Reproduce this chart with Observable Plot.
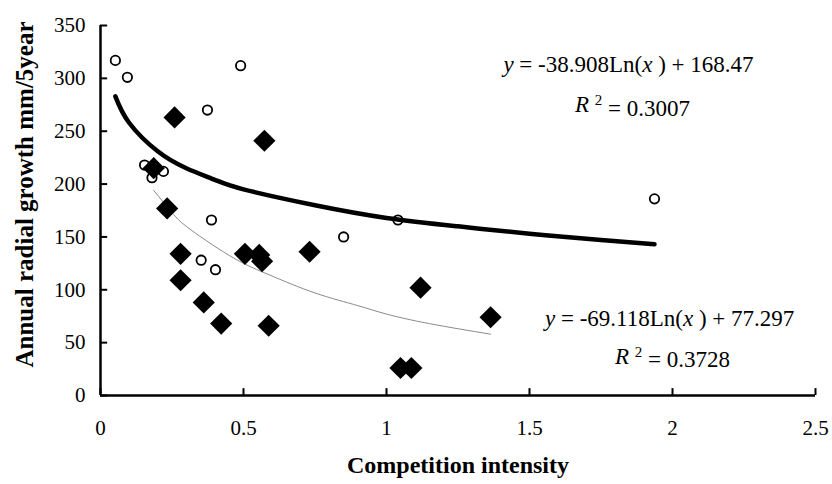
<!DOCTYPE html>
<html>
<head>
<meta charset="utf-8">
<script src="https://cdn.jsdelivr.net/npm/d3@7"></script>
<script src="https://cdn.jsdelivr.net/npm/@observablehq/plot@0.6"></script>
<style>
  html, body { margin: 0; padding: 0; background: #fff; }
  #chart { width: 832px; height: 484px; }
</style>
</head>
<body>
<div id="chart"></div>
<script>
// Series 1: open circles
const circleX = [0.052, 0.094, 0.49, 0.374, 0.154, 0.18, 0.22, 0.388, 0.85, 1.04, 1.937, 0.352, 0.402];
const circleY = [317, 301, 312, 270, 218, 206, 212, 166, 150, 166, 186, 128, 119];
// Series 2: filled diamonds
const diamondX = [0.259, 0.573, 0.186, 0.233, 0.28, 0.28, 0.361, 0.422, 0.505, 0.555, 0.565, 0.588, 0.731, 1.049, 1.087, 1.119, 1.364];
const diamondY = [263, 241, 215, 177, 134, 109, 88, 68, 134, 133, 127, 66, 136, 26, 26, 102, 74];
// Trend line 1 (thick black)
const trend1X = [0.052, 0.1, 0.2, 0.3, 0.4, 0.5, 0.75, 1.0, 1.25, 1.5, 1.75, 1.937];
const trend1Y = [283, 258, 231, 215, 204, 195, 180, 168, 160, 153, 147, 143];
// Trend line 2 (thin grey)
const trend2X = [0.186, 0.25, 0.3, 0.4, 0.5, 0.6, 0.75, 0.9, 1.0, 1.15, 1.364];
const trend2Y = [194, 173, 160, 141, 125, 113, 97, 85, 77, 68, 58];
// Axis ticks
const xTicks = [0, 0.5, 1, 1.5, 2, 2.5];
const yTicks = [0, 50, 100, 150, 200, 250, 300, 350];
// Texts
const xTitle = "Competition intensity";
const yTitle = "Annual radial growth mm/5year";
const eqLabels = ["y = -38.908Ln(x ) + 168.47", "R² = 0.3007", "y = -69.118Ln(x ) + 77.297", "R² = 0.3728"];
const eqX = [1.846, 1.86, 1.99, 2.0];
const eqY = [313, 275, 73, 37];

const circles = circleX.map((x, i) => ({x, y: circleY[i]}));
const diamonds = diamondX.map((x, i) => ({x, y: diamondY[i]}));
const t1 = trend1X.map((x, i) => ({x, y: trend1Y[i]}));
const t2 = trend2X.map((x, i) => ({x, y: trend2Y[i]}));
const eqs = eqLabels.map((t, i) => ({t, x: eqX[i], y: eqY[i]}));

const chart = Plot.plot({
  width: 832,
  height: 484,
  marginLeft: 100,
  marginRight: 17,
  marginTop: 25,
  marginBottom: 89,
  style: {fontFamily: "'Liberation Serif', 'Times New Roman', serif", fontSize: "21px", color: "#000", background: "#fff"},
  x: {domain: [0, 2.5]},
  y: {domain: [0, 350]},
  marks: [
    Plot.axisX(xTicks, {tickSize: 0, tickPadding: 25, label: null, fontSize: 21, tickFormat: d => String(d)}),
    Plot.axisY(yTicks, {tickSize: 0, tickPadding: 15, label: null, fontSize: 21, tickFormat: d => String(d)}),
    Plot.ruleX(xTicks, {x: d => d, y1: 0, y2: 6.5, stroke: "#000", strokeWidth: 2}),
    Plot.ruleY(yTicks, {y: d => d, x1: 0, x2: 0.025, stroke: "#000", strokeWidth: 2}),
    Plot.ruleY([0], {stroke: "#000", strokeWidth: 2.5}),
    Plot.ruleX([0], {stroke: "#000", strokeWidth: 2.5}),
    Plot.line(t2, {x: "x", y: "y", stroke: "#8a8a8a", strokeWidth: 1, curve: "natural"}),
    Plot.line(t1, {x: "x", y: "y", stroke: "#000", strokeWidth: 4.5, curve: "natural"}),
    Plot.dot(diamonds, {x: "x", y: "y", symbol: "diamond2", r: 10, fill: "#000", stroke: "none"}),
    Plot.dot(circles, {x: "x", y: "y", symbol: "circle", r: 4.7, fill: "none", stroke: "#000", strokeWidth: 1.8}),
    Plot.text(eqs, {x: "x", y: "y", text: "t", fontSize: 23, textAnchor: "middle", className: "eq"}),
    Plot.text([xTitle], {frameAnchor: "bottom", dy: 77, fontWeight: "bold", fontSize: 24, textAnchor: "middle"}),
    Plot.text([yTitle], {frameAnchor: "left", dx: -76, dy: -16, rotate: -90, fontWeight: "bold", fontSize: 25, textAnchor: "middle"})
  ]
});

document.getElementById("chart").appendChild(chart);

// Style equations: italic variables and superscript 2
d3.select(chart).selectAll("g.eq text").each(function() {
  const el = d3.select(this);
  const s = el.text();
  el.text(null);
  const parts = s.split(/(y|x|R|²)/).filter(p => p !== "");
  let raised = false;
  for (const p of parts) {
    if (p === "y" || p === "x" || p === "R") {
      el.append("tspan").attr("font-style", "italic").text(p + (p === "R" ? " " : ""));
    } else if (p === "²") {
      el.append("tspan").attr("dy", "-0.45em").attr("font-size", "15px").text("2");
      raised = true;
    } else {
      const ts = el.append("tspan").text(p);
      if (raised) { ts.attr("dy", "0.45em"); raised = false; }
    }
  }
});
</script>
</body>
</html>
